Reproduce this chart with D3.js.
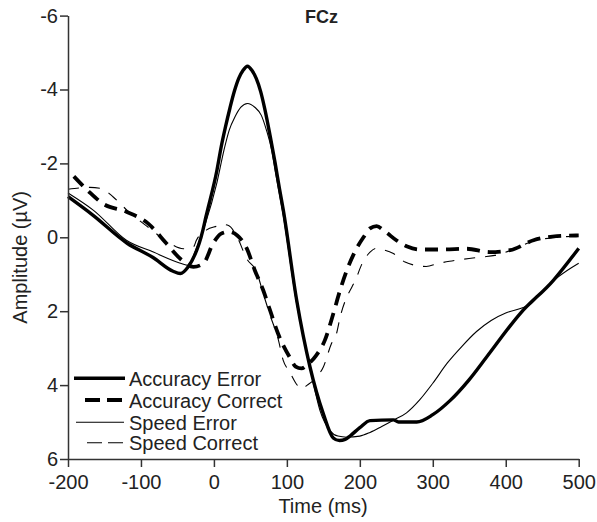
<!DOCTYPE html>
<html>
<head>
<meta charset="utf-8">
<script src="https://cdn.jsdelivr.net/npm/d3@7"></script>
<style>
  body { margin: 0; background: #fff; }
  svg text { font-family: "Liberation Sans", Arial, sans-serif; fill: #222; }
</style>
</head>
<body>
<div id="chart"></div>
<script>
// ERP waveforms at FCz, values as [time ms, amplitude uV]
const accuracyError = [[-200,-1.1],[-166,-0.6],[-119,0.16],[-84,0.54],[-56,0.92],[-46,0.98],[-36,0.82],[-15,-0.2],[-11,-0.55],[4,-1.8],[10,-2.45],[16,-3.0],[22,-3.5],[28,-3.95],[34,-4.3],[40,-4.52],[46,-4.63],[52,-4.52],[58,-4.3],[64,-3.95],[70,-3.45],[77,-2.75],[84,-2.0],[90,-1.3],[95,-0.75],[113.5,1.71],[131.7,3.51],[150,4.78],[163.6,5.43],[172,5.5],[180,5.47],[187,5.37],[200,5.15],[214,4.96],[246,4.94],[253,5.0],[278,5.0],[300,4.8],[323.6,4.42],[350,3.85],[373.8,3.24],[419.5,2.07],[465,1.17],[500,0.3]]
const accuracyCorrect = [[-192,-1.65],[-172,-1.25],[-152,-0.91],[-120,-0.69],[-90,-0.37],[-65,0.17],[-45,0.6],[-28,0.8],[-14.5,0.71],[-1,0.16],[10,-0.1],[20,-0.15],[32,-0.05],[45,0.3],[56,0.89],[67.7,1.44],[77,1.98],[88,2.61],[104,3.25],[112,3.5],[120,3.55],[128,3.45],[140,3.2],[152,2.79],[163.6,2.07],[172.8,1.44],[184,0.8],[195.6,0.3],[205,0.0],[214,-0.24],[223,-0.3],[235,-0.15],[250,0.08],[265,0.25],[282,0.33],[314,0.33],[346,0.31],[378,0.4],[406,0.35],[438,0.08],[470,-0.03],[500,-0.05]]
const speedError = [[-200,-1.2],[-165,-0.73],[-120,0.08],[-83,0.4],[-46,0.7],[-35,0.76],[-25,0.35],[-12,-0.35],[3.8,-1.45],[13.8,-2.36],[21,-2.9],[28.9,-3.26],[37,-3.52],[46,-3.62],[56,-3.52],[65,-3.3],[72,-2.9],[79.2,-2.36],[84,-1.8],[95,-0.6],[113,1.75],[131,3.45],[145.4,4.69],[159,5.23],[170,5.38],[182,5.41],[200,5.38],[214,5.28],[230,5.12],[246,4.95],[264,4.75],[282,4.4],[300,3.95],[320,3.4],[340,2.95],[360,2.55],[380,2.25],[400,2.05],[424,1.9],[433,1.82],[450,1.47],[472,1.07],[500,0.7]]
const speedCorrect = [[-200,-1.3],[-170,-1.35],[-154,-1.32],[-138,-1.09],[-120,-0.75],[-88,-0.24],[-60,0.17],[-42,0.31],[-28,0.26],[-24,0.08],[-10,-0.2],[4,-0.3],[12,-0.35],[20,-0.32],[32,0.0],[45,0.58],[58.6,0.94],[67.7,1.53],[77,2.11],[88,2.75],[95,3.33],[104,3.65],[113,3.97],[120,4.1],[128,4.0],[140,3.8],[150,3.51],[161,2.88],[168,2.61],[173,2.16],[182,1.62],[189,1.35],[195.6,1.08],[202,0.76],[214,0.4],[222,0.3],[230,0.33],[246,0.44],[262,0.67],[276,0.76],[291,0.79],[307,0.71],[323,0.65],[340,0.6],[355,0.56],[369,0.53],[385,0.49],[406,0.36],[438,0.1],[470,0.0],[500,-0.03]]

const xTicks = [-200, -100, 0, 100, 200, 300, 400, 500]
const yTicks = [-6, -4, -2, 0, 2, 4, 6]
const seriesNames = ['Accuracy Error', 'Accuracy Correct', 'Speed Error', 'Speed Correct']

const width = 597
const height = 522
const margin = {top: 15.6, right: 18, bottom: 63, left: 68}

const svg = d3.select('#chart').append('svg')
    .attr('width', width).attr('height', height)

const x = d3.scaleLinear()
    .domain([-200, 500])
    .range([margin.left, 578.7])
const y = d3.scaleLinear()
    .domain([-6, 6])
    .range([margin.top, 459])

// styles per series: thick solid, thick dashed, thin solid, thin dashed
const styles = [
    {data: accuracyError, w: 3.4, dash: null},
    {data: accuracyCorrect, w: 3.8, dash: '13,8'},
    {data: speedError, w: 1.1, dash: null},
    {data: speedCorrect, w: 1.1, dash: '11,10'}
]

const line = d3.line()
    .x(d => x(d[0]))
    .y(d => y(d[1]))
    .curve(d3.curveMonotoneX)

svg.append('g').selectAll('path').data(styles).enter().append('path')
    .attr('d', d => line(d.data))
    .attr('fill', 'none')
    .attr('stroke', '#000')
    .attr('stroke-width', d => d.w)
    .attr('stroke-dasharray', d => d.dash)
    .attr('stroke-linejoin', 'round')

// axes
const xAxis = svg.append('g')
    .attr('transform', `translate(0,${y(6)})`)
    .call(d3.axisBottom(x).tickValues(xTicks).tickFormat(d => String(d))
        .tickSize(8).tickSizeOuter(0).tickPadding(8))
const yAxis = svg.append('g')
    .attr('transform', `translate(${x(-200)},0)`)
    .call(d3.axisLeft(y).tickValues(yTicks).tickFormat(d => String(d))
        .tickSize(8).tickSizeOuter(0).tickPadding(2))

svg.selectAll('.domain, .tick line')
    .attr('stroke', '#333').attr('stroke-width', 1.5)
svg.selectAll('.tick text')
    .attr('font-size', 20).attr('fill', '#222')
    .style('font-family', '"Liberation Sans", Arial, sans-serif')

// labels
svg.append('text')
    .attr('x', 323).attr('y', 513)
    .attr('text-anchor', 'middle').attr('font-size', 20)
    .text('Time (ms)')
svg.append('text')
    .attr('transform', `translate(27,${y(0) + 20}) rotate(-90)`)
    .attr('text-anchor', 'middle').attr('font-size', 20)
    .text('Amplitude (µV)')
svg.append('text')
    .attr('x', 305).attr('y', 23)
    .attr('font-size', 18).attr('font-weight', 'bold')
    .text('FCz')

// legend
const legendY = [378.3, 400, 422.3, 442.7]
const legendX = [[74, 125], [85, 122], [76, 124], [87, 123]]
const legendDash = [null, '15,7', null, '15,6']
const legend = svg.append('g')
seriesNames.forEach((name, i) => {
    legend.append('line')
        .attr('x1', legendX[i][0]).attr('x2', legendX[i][1])
        .attr('y1', legendY[i]).attr('y2', legendY[i])
        .attr('stroke', '#000')
        .attr('stroke-width', styles[i].w)
        .attr('stroke-dasharray', legendDash[i])
    legend.append('text')
        .attr('x', 129).attr('y', legendY[i] + 7.5)
        .attr('font-size', 20)
        .text(name)
})
</script>
</body>
</html>
